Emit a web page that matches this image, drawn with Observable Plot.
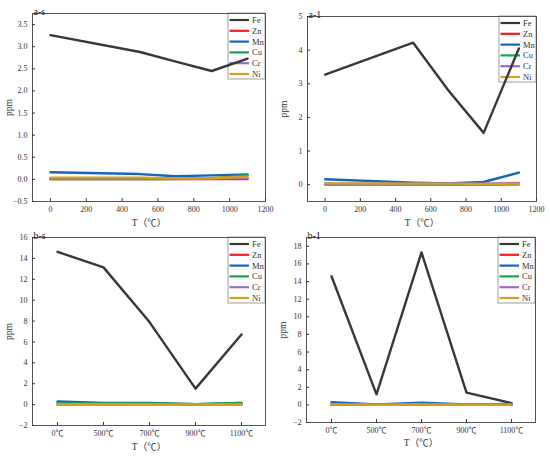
<!DOCTYPE html>
<html>
<head>
<meta charset="utf-8">
<script src="https://cdn.jsdelivr.net/npm/d3@7"></script>
<script src="https://cdn.jsdelivr.net/npm/@observablehq/plot@0.6"></script>
<style>
  html, body { margin: 0; padding: 0; background: white; }
  #fig { position: relative; width: 550px; height: 456px; background: white; }
  #fig > svg { position: absolute; }
  #fig g[aria-label="x-axis label"] text, #fig g[aria-label="y-axis label"] text { font-size: 9.5px; }
</style>
</head>
<body>
<div id="fig"></div>
<script>
// ---------- data ----------
const elements = ["Fe", "Zn", "Mn", "Cu", "Cr", "Ni"];
const colors = ["#383838", "#ee1c25", "#1763c0", "#16a650", "#9a6ccd", "#d4a01a"];

const tempsNum = [0, 500, 700, 900, 1100];
const tempsCat = ["0℃", "500℃", "700℃", "900℃", "1100℃"];

// a-s
const as_Fe = [3.26, 2.88, 2.66, 2.45, 2.73];
const as_Zn = [0.01, 0.01, 0.01, 0.01, 0.01];
const as_Mn = [0.16, 0.12, 0.07, 0.09, 0.11];
const as_Cu = [0.01, 0.01, 0.01, 0.02, 0.10];
const as_Cr = [0.02, 0.02, 0.02, 0.02, 0.03];
const as_Ni = [0.04, 0.04, 0.02, 0.03, 0.06];

// a-1
const a1_Fe = [3.27, 4.22, 2.8, 1.54, 4.05];
const a1_Zn = [0.01, 0.01, 0.01, 0.01, 0.01];
const a1_Mn = [0.16, 0.06, 0.04, 0.08, 0.36];
const a1_Cu = [0.01, 0.01, 0.01, 0.01, 0.02];
const a1_Cr = [0.03, 0.03, 0.03, 0.03, 0.05];
const a1_Ni = [0.04, 0.03, 0.03, 0.02, 0.02];

// b-s
const bs_Fe = [14.63, 13.14, 7.9, 1.53, 6.71];
const bs_Zn = [0.02, 0.02, 0.02, 0.02, 0.02];
const bs_Mn = [0.3, 0.15, 0.15, 0.05, 0.15];
const bs_Cu = [0.1, 0.1, 0.12, 0.05, 0.15];
const bs_Cr = [0.05, 0.05, 0.05, 0.03, 0.05];
const bs_Ni = [0.05, 0.03, 0.02, 0.02, 0.02];

// b-1
const b1_Fe = [14.6, 1.2, 17.3, 1.4, 0.2];
const b1_Zn = [0.02, 0.02, 0.02, 0.02, 0.02];
const b1_Mn = [0.3, 0.05, 0.25, 0.05, 0.1];
const b1_Cu = [0.1, 0.03, 0.1, 0.03, 0.05];
const b1_Cr = [0.03, 0.03, 0.03, 0.03, 0.03];
const b1_Ni = [0.05, 0.02, 0.05, 0.02, 0.02];

// tick labels
const xTicksNum = [0, 200, 400, 600, 800, 1000, 1200];
const yTicksAs = [-0.5, 0, 0.5, 1, 1.5, 2, 2.5, 3, 3.5];
const yTicksA1 = [0, 1, 2, 3, 4, 5];
const yTicksBs = [-2, 0, 2, 4, 6, 8, 10, 12, 14, 16];
const yTicksB1 = [-2, 0, 2, 4, 6, 8, 10, 12, 14, 16, 18];

const titles = ["a-s", "a-1", "b-s", "b-1"];
const xLabel = "T（℃）";
const yLabel = "ppm";

// ---------- layout ----------
const FONT = "'Liberation Serif', 'Noto Sans CJK SC', serif";
const panels = [
  {title: titles[0], left: 0, top: 0, w: 275, h: 225, mL: 32, mR: 10, mT: 13, mB: 24,
   x: tempsNum, cat: false, xTicks: xTicksNum, yDomain: [-0.5, 3.75], yTicks: yTicksAs, yFmt: ".1f",
   series: [as_Fe, as_Zn, as_Mn, as_Cu, as_Cr, as_Ni], xLabOff: 24},
  {title: titles[1], left: 275, top: 0, w: 275, h: 225, mL: 32, mR: 14, mT: 16, mB: 24,
   x: tempsNum, cat: false, xTicks: xTicksNum, yDomain: [-0.5, 5], yTicks: yTicksA1, yFmt: "d",
   series: [a1_Fe, a1_Zn, a1_Mn, a1_Cu, a1_Cr, a1_Ni], xLabOff: 24},
  {title: titles[2], left: 0, top: 225, w: 275, h: 231, mL: 32, mR: 10, mT: 12, mB: 31,
   x: tempsCat, cat: true, xTicks: tempsCat, yDomain: [-2, 16], yTicks: yTicksBs, yFmt: "d",
   series: [bs_Fe, bs_Zn, bs_Mn, bs_Cu, bs_Cr, bs_Ni], xLabOff: 24},
  {title: titles[3], left: 275, top: 225, w: 275, h: 231, mL: 31, mR: 15, mT: 12, mB: 34,
   x: tempsCat, cat: true, xTicks: tempsCat, yDomain: [-2, 19], yTicks: yTicksB1, yFmt: "d",
   series: [b1_Fe, b1_Zn, b1_Mn, b1_Cu, b1_Cr, b1_Ni], xLabOff: 23}
];

const fig = document.getElementById("fig");

// legends (drawn underneath the plots)
const legSvg = d3.select(fig).append("svg")
  .attr("width", 550).attr("height", 456)
  .style("left", "0px").style("top", "0px");

panels.forEach(p => {
  const right = p.left + p.w - p.mR;
  const top = p.top + p.mT;
  const bw = 37, bh = 66;
  const g = legSvg.append("g").attr("transform", `translate(${right - bw},${top})`);
  g.append("rect").attr("x", 0).attr("y", 0).attr("width", bw).attr("height", bh)
    .attr("fill", "white").attr("stroke", "#888").attr("stroke-width", 0.8);
  elements.forEach((el, i) => {
    const yy = 7 + i * 10.8;
    g.append("line").attr("x1", 1.5).attr("x2", 21).attr("y1", yy).attr("y2", yy)
      .attr("stroke", colors[i]).attr("stroke-width", 2.2);
    g.append("text").attr("x", 24).attr("y", yy).attr("dy", "0.35em")
      .attr("font-family", FONT).attr("font-size", 8.5).attr("fill", "#333").text(el);
  });
});

panels.forEach(p => {
  const rows = [];
  elements.forEach((el, i) => p.series[i].forEach((v, j) => rows.push({el, t: p.x[j], v})));
  const chart = Plot.plot({
    width: p.w, height: p.h,
    marginLeft: p.mL, marginRight: p.mR, marginTop: p.mT, marginBottom: p.mB,
    style: {background: "transparent", fontFamily: FONT, fontSize: "8px", color: "#333", overflow: "visible"},
    x: p.cat ? {type: "point", domain: p.x, padding: 0.5} : {domain: [-100, 1200]},
    y: {domain: p.yDomain},
    color: {domain: elements, range: colors},
    marks: [
      Plot.frame({stroke: "#555", strokeWidth: 1}),
      Plot.axisX({ticks: p.xTicks, tickSize: -3, tickPadding: 8, tickFormat: p.cat ? (d => d) : "d",
        label: xLabel, labelAnchor: "center", labelOffset: p.xLabOff, labelArrow: "none", fontSize: 8}),
      Plot.axisY({ticks: p.yTicks, tickSize: -3, tickPadding: 8, tickFormat: p.yFmt,
        label: yLabel, labelAnchor: "center", labelOffset: 27, labelArrow: "none", fontSize: 8}),
      Plot.line(rows, {x: "t", y: "v", z: "el", stroke: "el", strokeWidth: 2.4}),
      Plot.text([p.title], {frameAnchor: "top-left", text: d => d, textAnchor: "start", lineAnchor: "bottom",
        dx: 1, dy: 1, fontSize: 10, fill: "#222"})
    ]
  });
  chart.style.left = p.left + "px";
  chart.style.top = p.top + "px";
  fig.appendChild(chart);
});
</script>
</body>
</html>
